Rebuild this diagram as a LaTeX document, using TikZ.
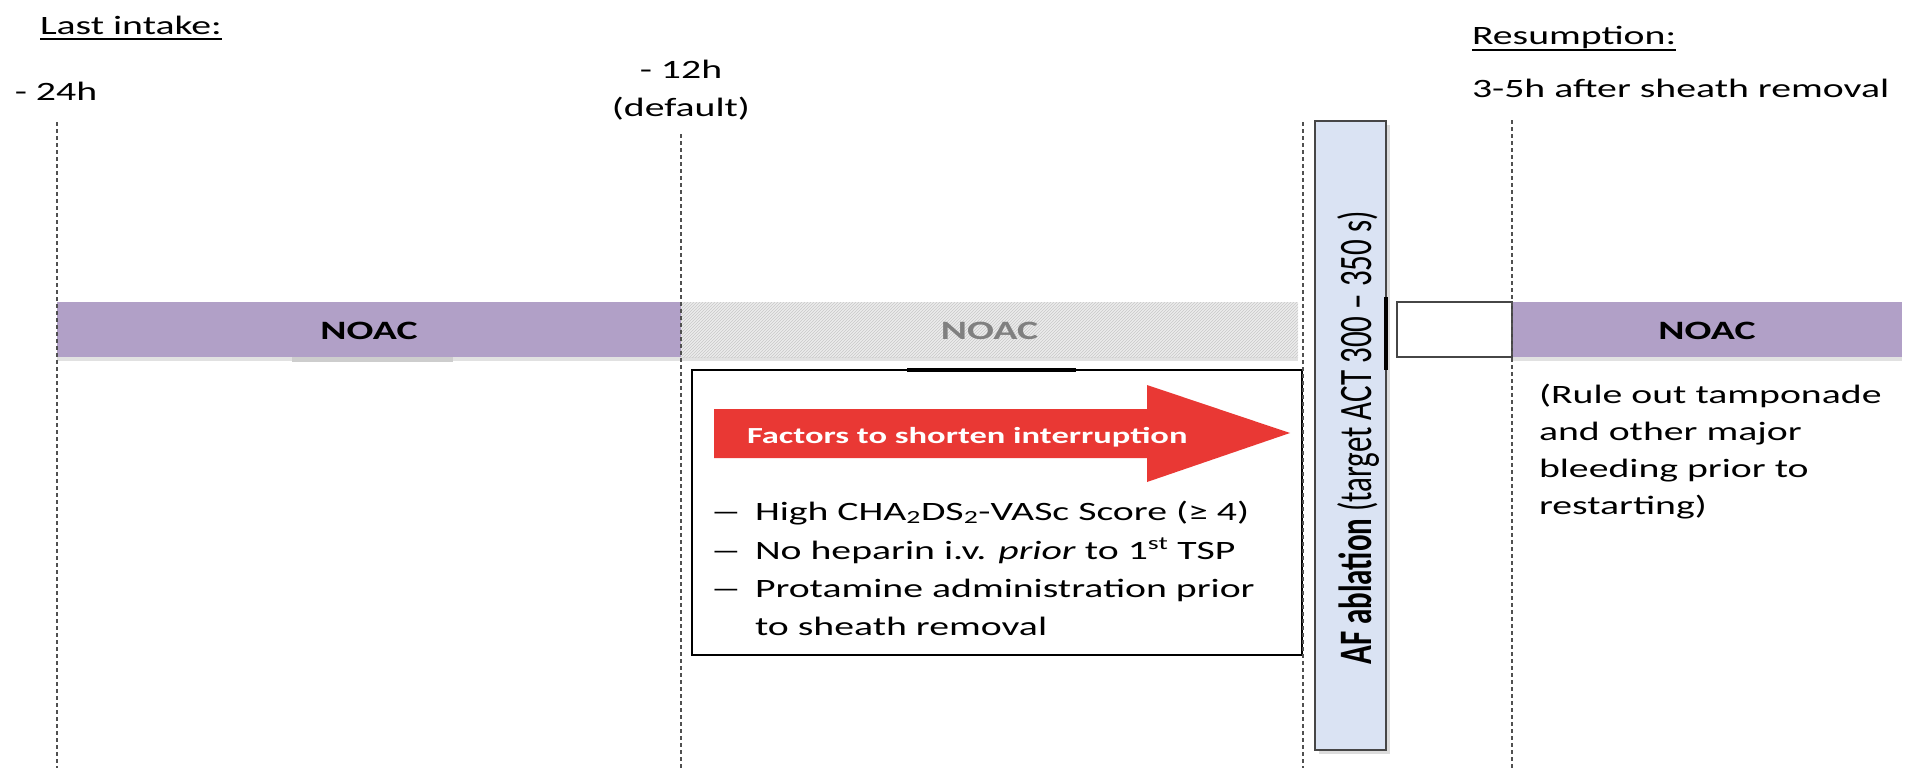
\documentclass[tikz,border=0pt]{standalone}
\usepackage{fontspec}
\setmainfont{Carlito}[FakeStretch=1.5]
\newfontfamily\plainfont{Carlito}
\usetikzlibrary{patterns}

\definecolor{noacpurple}{RGB}{177,160,199}
\definecolor{afblue}{RGB}{218,227,243}
\definecolor{arrowred}{RGB}{233,56,52}
\definecolor{hatchfill}{RGB}{236,236,236}
\definecolor{hatchline}{RGB}{200,200,200}
\definecolor{guidegrey}{RGB}{80,80,80}
\definecolor{framegrey}{RGB}{70,70,70}
\definecolor{shadowgrey}{RGB}{205,205,205}

\begin{document}
\begin{tikzpicture}[x=1pt,y=-1pt,
  every node/.style={inner sep=0pt, outer sep=0pt},
  body/.style={font=\fontsize{26.5}{38}\selectfont, anchor=base west},
  bulletdash/.style={font=\fontsize{26.5}{38}\selectfont, anchor=base west, xscale=1.6},
  headline/.style={body, text depth=0pt},
  bartext/.style={font=\fontsize{26.5}{32}\selectfont\bfseries, anchor=base},
  timeline/.style={draw=guidegrey, line width=1.9pt, dash pattern=on 4pt off 3pt},
  barbox/.style={anchor=north west, minimum height=55pt},
  underl/.style={line width=1.6pt}
]
\useasboundingbox (0,0) rectangle (1908,768);

% ---- NOAC bars ----
\fill[shadowgrey!60] (57,357) rectangle (681,361);
\fill[shadowgrey] (292,357) rectangle (453,362);
\fill[shadowgrey!60] (681,357) rectangle (1298,361);
\fill[shadowgrey!60] (1512,357) rectangle (1902,361);

\node[barbox, fill=noacpurple, minimum width=624pt] (noacpre) at (57,302) {};
\node[bartext] at ([yshift=-10pt]noacpre.center) {NOAC};

\node[barbox, fill=hatchfill, minimum width=617pt] (noacopt) at (681,302) {};
\fill[pattern=north east lines, pattern color=hatchline] (noacopt.north west) rectangle (noacopt.south east);
\node[bartext, text=gray] at ([yshift=-10pt]noacopt.center) {NOAC};

\node[barbox, fill=noacpurple, minimum width=390pt] (noacpost) at (1512,302) {};
\node[bartext] at ([yshift=-10pt]noacpost.center) {NOAC};

% gap between ablation and resumption
\node[barbox, draw=framegrey, line width=2pt, fill=white, minimum width=115pt] (gapbox) at (1397,302) {};

% ---- factors box ----
\node[anchor=north west, draw=black, line width=1.6pt, fill=white,
      minimum width=610pt, minimum height=285pt] (factors) at (692,370) {};
\coordinate (tabl) at (907,370);
\coordinate (tabr) at (1076,370);
\draw[line width=4.5pt] (tabl) -- (tabr);

% red arrow
\fill[arrowred] (714,409) -- (1147,409) -- (1147,385) -- (1290,433)
      -- (1147,482) -- (1147,458) -- (714,458) -- cycle;
\node[font=\fontsize{23}{28}\selectfont\bfseries, text=white, anchor=base west]
      (arrowtext) at (747,443) {Factors to shorten interruption};

% bullet list
\node[bulletdash] (d1) at (710,520) {–};
\node[body] (f1) at (755,520) {High CHA\textsubscript{2}DS\textsubscript{2}-VASc Score (≥ 4)};
\node[bulletdash] (d2) at (710,559) {–};
\node[body] (f2) at (755,559) {No heparin i.v. \textit{prior} to 1\textsuperscript{st} TSP};
\node[bulletdash] (d3) at (710,597) {–};
\node[body] (f3) at (755,597) {Protamine administration prior};
\node[body] (f4) at (755,635) {to sheath removal};

% ---- AF ablation ----
\fill[shadowgrey!70] (1319,125) rectangle (1390,754);
\node[anchor=north west, draw=framegrey, line width=2.5pt, fill=afblue,
      minimum width=71pt, minimum height=629pt] (afbox) at (1315,121) {};
\coordinate (afmarkt) at (1386,297);
\coordinate (afmarkb) at (1386,370);
\draw[line width=4pt] (afmarkt) -- (afmarkb);
\node[anchor=base, xscale=1.5, rotate=90,
      font=\plainfont\fontsize{31}{36}\selectfont] (aftext) at (1371,438)
      {\textbf{AF ablation} (target ACT 300 – 350 s)};

% ---- time markers ----
\coordinate (m24t) at (57,122);   \coordinate (m24b) at (57,768);
\coordinate (m12t) at (681,134);  \coordinate (m12b) at (681,768);
\coordinate (m0t) at (1303,122);  \coordinate (m0b) at (1303,768);
\coordinate (mrt) at (1512,120);  \coordinate (mrb) at (1512,768);
\draw[timeline] (m24t) -- (m24b);
\draw[timeline] (m12t) -- (m12b);
\draw[timeline] (m0t) -- (m0b);
\draw[timeline] (mrt) -- (mrb);

% ---- labels ----
\node[headline] (lastintake) at (40,35) {Last intake:};
\draw[underl] ([yshift=-4pt]lastintake.base west) -- ([yshift=-4pt]lastintake.base east);

\node[body, anchor=base] (h24) at (56,100) {- 24h};
\node[body, anchor=base] (h12) at (681,78) {- 12h};
\node[body, anchor=base] (hdef) at (681,116) {(default)};

\node[headline] (resumption) at (1472,45) {Resumption:};
\draw[underl] ([yshift=-5pt]resumption.base west) -- ([yshift=-5pt]resumption.base east);
\node[body] (resumetime) at (1472,97) {3-5h after sheath removal};

\node[body] (r1) at (1539,403) {(Rule out tamponade};
\node[body] (r2) at (1539,440) {and other major};
\node[body] (r3) at (1539,477) {bleeding prior to};
\node[body] (r4) at (1539,514) {restarting)};
\end{tikzpicture}
\end{document}
